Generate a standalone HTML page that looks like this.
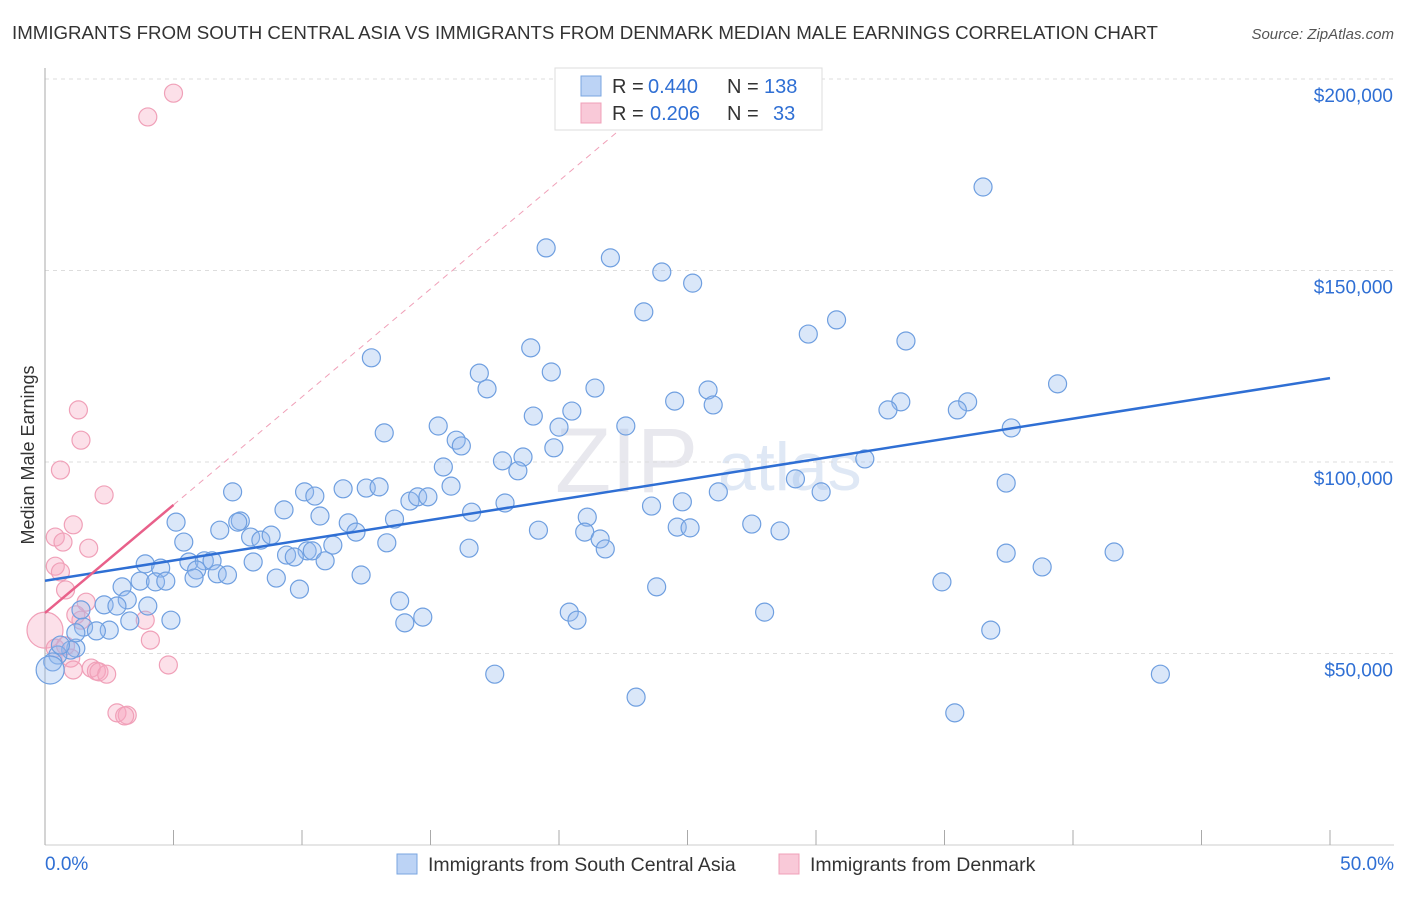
<!DOCTYPE html>
<html><head><meta charset="utf-8"><style>
body{margin:0;background:#fff;font-family:"Liberation Sans",sans-serif;}
svg text{font-family:"Liberation Sans",sans-serif;}
</style></head><body>
<svg id="chart" width="1406" height="892" xmlns="http://www.w3.org/2000/svg">
<text x="12" y="39" font-size="18.7" fill="#333">IMMIGRANTS FROM SOUTH CENTRAL ASIA VS IMMIGRANTS FROM DENMARK MEDIAN MALE EARNINGS CORRELATION CHART</text>
<text x="1394" y="39" font-size="15" fill="#555" font-style="italic" text-anchor="end">Source: ZipAtlas.com</text>
<text x="555" y="492" font-size="92" fill="#e8e8ee" font-family="Liberation Serif">ZIP</text>
<text x="718" y="490" font-size="68" fill="#dfe8f5">atlas</text>
<g id="grid"></g><g id="axes"></g><g id="marks"></g>
<text transform="translate(34,455) rotate(-90)" font-size="18" fill="#333" text-anchor="middle">Median Male Earnings</text>
<g>
<rect x="555" y="68" width="267" height="62" fill="#fff" stroke="#ddd"/>
<rect x="581" y="76" width="20" height="20" fill="#bcd3f5" stroke="#7aa6e0"/>
<text x="612" y="93" font-size="20" fill="#333">R =</text>
<text x="648" y="93" font-size="20" fill="#2f6fd4">0.440</text>
<text x="727" y="93" font-size="20" fill="#333">N =</text>
<text x="764" y="93" font-size="20" fill="#2f6fd4">138</text>
<rect x="581" y="103" width="20" height="20" fill="#f9c9d8" stroke="#f0a0b8"/>
<text x="612" y="120" font-size="20" fill="#333">R =</text>
<text x="650" y="120" font-size="20" fill="#2f6fd4">0.206</text>
<text x="727" y="120" font-size="20" fill="#333">N =</text>
<text x="773" y="120" font-size="20" fill="#2f6fd4">33</text>
</g>
<g>
<rect x="397" y="854" width="20" height="20" fill="#bcd3f5" stroke="#7aa6e0"/>
<text x="428" y="871" font-size="19.5" fill="#333">Immigrants from South Central Asia</text>
<rect x="779" y="854" width="20" height="20" fill="#f9c9d8" stroke="#f0a0b8"/>
<text x="810" y="871" font-size="19.5" fill="#333">Immigrants from Denmark</text>
</g>
</svg>
<script>
const blueX=[36.5,19.5,22.0,24.0,25.2,23.3,30.8,29.7,33.5,18.9,12.7,19.7,16.9,17.2,21.4,24.5,25.8,26.0,39.4,33.3,32.8,35.9,35.5,20.5,19.0,20.0,22.6,37.6,13.2,15.3,16.0,16.2,19.8,15.5,17.8,18.6,18.4,31.9,29.2,37.4,7.3,10.1,10.5,11.6,12.5,13.0,14.2,14.5,14.9,15.8,17.9,24.8,23.6,26.2,30.2,5.1,7.6,9.3,10.7,11.8,12.1,13.6,16.6,21.1,27.5,28.6,24.6,25.1,19.2,21.0,6.8,7.5,8.0,8.4,8.8,5.4,13.3,11.2,10.2,10.4,9.4,9.7,10.9,16.5,21.6,21.8,37.4,41.6,3.9,4.5,5.6,6.2,6.5,5.9,8.1,38.8,3.0,3.7,4.3,4.7,5.8,6.7,7.1,9.0,12.3,34.9,23.8,9.9,3.2,2.3,2.8,4.0,13.8,20.4,20.7,28.0,14.7,14.0,4.9,3.3,2.5,1.5,2.0,36.8,1.2,1.0,0.5,0.3,0.2,17.5,43.4,23.0,35.4,1.2,0.6,1.4];
const blueY=[171.8,155.9,153.3,149.6,146.7,139.2,137.1,133.4,131.6,129.8,127.2,123.5,123.2,119.1,119.3,115.9,118.8,114.9,120.4,115.7,113.6,115.7,113.6,113.3,112.0,109.1,109.4,108.9,107.6,109.4,105.7,104.2,103.7,98.7,100.3,101.3,97.7,100.8,95.6,94.5,92.2,92.2,91.1,93.0,93.2,93.5,89.8,90.9,90.9,93.7,89.3,89.6,88.5,92.2,92.2,84.3,84.6,87.5,85.9,84.1,81.7,85.1,86.9,85.6,83.8,82.0,83.0,82.8,82.2,81.7,82.2,84.3,80.4,79.6,80.9,79.1,78.9,78.3,76.8,76.8,75.7,75.2,74.2,77.5,79.9,77.3,76.2,76.5,73.4,72.3,73.9,74.2,74.2,71.8,73.9,72.6,67.4,68.9,68.7,68.9,69.7,70.8,70.5,69.7,70.5,68.7,67.4,66.8,64.0,62.7,62.4,62.4,63.7,60.8,58.7,60.8,59.5,58.0,58.7,58.5,56.1,56.9,55.9,56.1,51.4,50.9,49.6,47.8,45.7,44.6,44.6,38.6,34.5,55.4,52.2,61.4];
const pinkX=[5.0,4.0,1.3,1.4,0.6,2.3,1.1,0.4,1.7,0.7,0.4,0.6,0.8,1.6,1.2,1.4,0.0,4.1,1.0,4.8,1.8,2.0,2.1,2.4,2.8,3.2,3.1,0.4,0.8,1.1,3.9];
const pinkY=[196.3,190.1,113.6,105.7,97.9,91.4,83.6,80.4,77.5,79.1,72.8,71.3,66.6,63.4,60.1,58.7,56.1,53.5,48.8,47.0,46.2,45.4,45.2,44.6,34.5,33.9,33.7,51.4,52.0,45.7,58.7];
const xTicks=[0,5,10,15,20,25,30,35,40,45,50];
const yTicks=[50,100,150,200];
const yTickLabels=["$50,000","$100,000","$150,000","$200,000"];
const blueTrend=[69.0,121.9];
const pinkTrend=[60.6,88.8];
const pinkDashEnd=22.6;
const NS="http://www.w3.org/2000/svg";
const sx=v=>45+v*25.7, sy=v=>845-v*191.5/50;
function mk(t,a,p){const e=document.createElementNS(NS,t);for(const k in a)e.setAttribute(k,a[k]);p.appendChild(e);return e;}
const grid=document.getElementById('grid'),axes=document.getElementById('axes'),marks=document.getElementById('marks');
yTicks.forEach((t,i)=>{
 const g=mk('line',{x1:45,x2:1394,y1:sy(t),y2:sy(t),stroke:'#ddd','stroke-dasharray':'4,4'},grid);
 
 
 const l=mk('text',{x:1393,y:sy(t)+23,'font-size':19,fill:'#2f6fd4','text-anchor':'end'},axes);
 l.textContent=yTickLabels[i];
 
 
});
const ax=mk('line',{x1:45,x2:45,y1:68,y2:845,stroke:'#aaa'},axes);


const bx=mk('line',{x1:45,x2:1394,y1:845,y2:845,stroke:'#ccc'},axes);


xTicks.forEach(t=>{
 const k=mk('line',{x1:sx(t),x2:sx(t),y1:830,y2:845,stroke:'#aaa'},axes);
 
 
});
const xl0=mk('text',{x:45,y:870,'font-size':19,fill:'#2f6fd4'},axes);xl0.textContent=xTicks[0].toFixed(1)+'%';


const xl1=mk('text',{x:1394,y:870,'font-size':19,fill:'#2f6fd4','text-anchor':'end'},axes);xl1.textContent=xTicks[xTicks.length-1].toFixed(1)+'%';


pinkX.forEach((x,i)=>{
 const r=(x===0)?18:9;
 const c=mk('circle',{cx:sx(x),cy:sy(pinkY[i]),r:r,fill:'rgba(245,165,192,0.35)',stroke:'#f0a0b8','stroke-width':1.2},marks);
 
 
});
blueX.forEach((x,i)=>{
 const r=(x<=0.2)?14:9;
 const c=mk('circle',{cx:sx(x),cy:sy(blueY[i]),r:r,fill:'rgba(150,185,238,0.35)',stroke:'#6f9fe0','stroke-width':1.2},marks);
 
 
});
const slope=(pinkTrend[1]-pinkTrend[0])/5;
const d=mk('line',{x1:sx(5),y1:sy(pinkTrend[1]),x2:sx(pinkDashEnd),y2:sy(pinkTrend[0]+slope*pinkDashEnd),stroke:'#f0a0b8','stroke-dasharray':'6,5'},marks);


const bl=mk('line',{x1:sx(0),y1:sy(blueTrend[0]),x2:sx(50),y2:sy(blueTrend[1]),stroke:'#2f6fd4','stroke-width':2.5},marks);


const pl=mk('line',{x1:sx(0),y1:sy(pinkTrend[0]),x2:sx(5),y2:sy(pinkTrend[1]),stroke:'#e8608a','stroke-width':2.5},marks);


</script>
</body></html>
